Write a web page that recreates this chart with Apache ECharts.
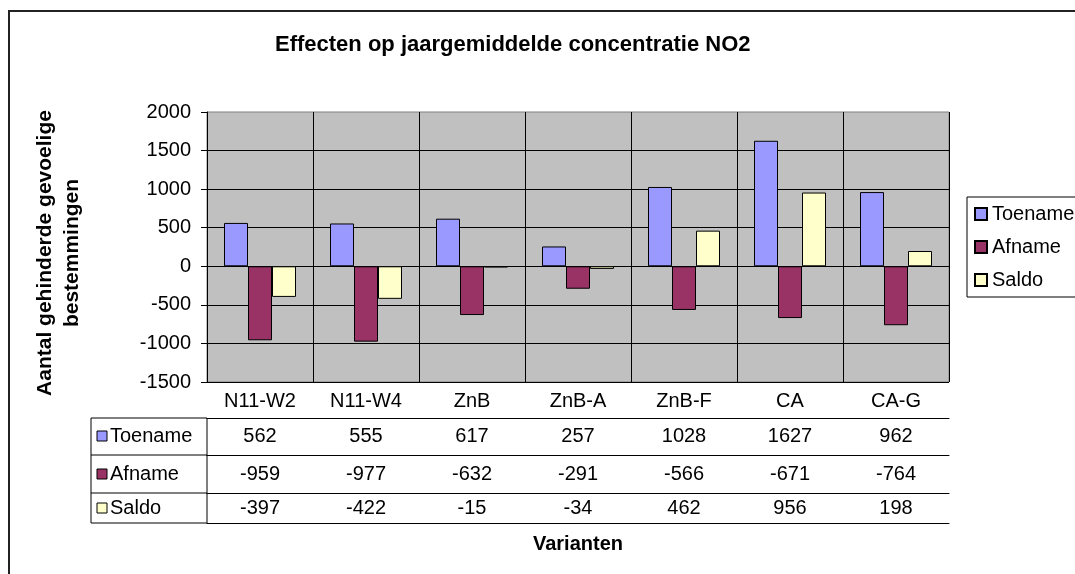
<!DOCTYPE html>
<html>
<head>
<meta charset="utf-8">
<script src="https://cdn.jsdelivr.net/npm/echarts@6/dist/echarts.min.js"></script>
<style>
  html, body { margin: 0; padding: 0; background: #fff; }
  #main { width: 1075px; height: 574px; }
</style>
</head>
<body>
<div id="main"></div>
<script>
var varianten = ['N11-W2', 'N11-W4', 'ZnB', 'ZnB-A', 'ZnB-F', 'CA', 'CA-G'];
var toename = [562, 555, 617, 257, 1028, 1627, 962];
var afname = [-959, -977, -632, -291, -566, -671, -764];
var saldo = [-397, -422, -15, -34, 462, 956, 198];
var reeksen = ['Toename', 'Afname', 'Saldo'];
var kleuren = ['#9999FF', '#993366', '#FFFFCC'];

var FONT = 'Liberation Sans, Arial, sans-serif';
var myChart = echarts.init(document.getElementById('main'));

// table rows under the plot: [offset, tick length, label margin, values]
var rijen = [
  [36, 37, 8, toename],
  [73, 38, 9, afname],
  [111, 30, 5, saldo]
];

var xAxes = [{
  type: 'category', data: varianten, position: 'bottom',
  axisLine: { lineStyle: { color: '#000', width: 1 } },
  axisTick: { interval: 0, length: 36, lineStyle: { color: '#000' } },
  axisLabel: { interval: 0, margin: 9, fontSize: 20, color: '#000', fontFamily: FONT },
  splitLine: { show: true, interval: 0, lineStyle: { color: '#000', width: 1 } }
}];
rijen.forEach(function (r) {
  var vals = r[3];
  xAxes.push({
    type: 'category', data: varianten, position: 'bottom', offset: r[0],
    axisLine: { lineStyle: { color: '#000', width: 1 } },
    axisTick: { interval: 0, length: r[1], lineStyle: { color: '#000' } },
    axisLabel: {
      interval: 0, margin: r[2], fontSize: 20, color: '#000', fontFamily: FONT,
      formatter: function (v, i) { return String(vals[i]); }
    },
    splitLine: { show: false }
  });
});
xAxes.push({
  type: 'category', data: varianten, position: 'bottom', offset: 141,
  axisLine: { lineStyle: { color: '#000', width: 1 } },
  axisTick: { show: false }, axisLabel: { show: false },
  name: 'Varianten', nameLocation: 'middle', nameGap: 11,
  nameTextStyle: { fontSize: 20, fontWeight: 'bold', color: '#000', fontFamily: FONT }
});

// left part of the data table (row headers)
var graphics = [
  { type: 'rect', shape: { x: 9, y: 11, width: 1200, height: 700 },
    style: { fill: 'none', stroke: '#222', lineWidth: 2 }, silent: true },
  { type: 'rect', shape: { x: 91, y: 418, width: 116, height: 105 },
    style: { fill: 'none', stroke: '#000', lineWidth: 1 } },
  { type: 'line', shape: { x1: 91, y1: 455, x2: 207, y2: 455 }, style: { stroke: '#000', lineWidth: 1 } },
  { type: 'line', shape: { x1: 91, y1: 493, x2: 207, y2: 493 }, style: { stroke: '#000', lineWidth: 1 } }
];
var rijMidden = [436, 474, 508];
reeksen.forEach(function (n, i) {
  graphics.push({ type: 'rect', shape: { x: 97, y: rijMidden[i] - 5, width: 10, height: 10 },
    style: { fill: kleuren[i], stroke: '#000', lineWidth: 1 } });
  graphics.push({ type: 'text', x: 110, y: rijMidden[i],
    style: { text: n, fontSize: 20, fontFamily: FONT, fill: '#000', verticalAlign: 'middle' } });
});

var reeksData = [toename, afname, saldo];
var opt = {
  animation: false,
  backgroundColor: '#fff',
  title: {
    text: 'Effecten op jaargemiddelde concentratie NO2',
    left: 270, top: 29,
    textStyle: { fontSize: 22, fontWeight: 'bold', color: '#000', fontFamily: FONT }
  },
  legend: {
    orient: 'vertical', left: 967, top: 197,
    data: reeksen,
    icon: 'rect', itemWidth: 12, itemHeight: 12, itemGap: 13,
    padding: [7, 30, 7, 7],
    borderColor: '#000', borderWidth: 1,
    textStyle: { fontSize: 20, color: '#000', fontFamily: FONT }
  },
  grid: {
    left: 207, right: 126, top: 112, bottom: 192,
    show: true, backgroundColor: '#C0C0C0', borderColor: '#808080', borderWidth: 1
  },
  xAxis: xAxes,
  yAxis: {
    type: 'value', min: -1500, max: 2000, interval: 500,
    axisLine: { show: true, lineStyle: { color: '#000' } },
    axisTick: { show: true, length: 6, lineStyle: { color: '#000' } },
    axisLabel: { margin: 16, fontSize: 20, color: '#000', fontFamily: FONT,
      formatter: function (v) { return String(v); } },
    splitLine: { show: true, showMaxLine: false, lineStyle: { color: '#000', width: 1 } },
    name: 'Aantal gehinderde gevoelige\nbestemmingen',
    nameLocation: 'middle', nameRotate: 90, nameGap: 121,
    nameTextStyle: { fontSize: 21, fontWeight: 'bold', color: '#000', lineHeight: 27,
      fontFamily: FONT, padding: [0, 12, 0, 0] }
  },
  series: reeksen.map(function (n, i) {
    return {
      name: n, type: 'bar', xAxisIndex: 0, data: reeksData[i],
      barWidth: 24, barGap: '0%',
      itemStyle: { color: kleuren[i], borderColor: '#000', borderWidth: 1 }
    };
  }),
  graphic: graphics
};
myChart.setOption(opt);
</script>
</body>
</html>
